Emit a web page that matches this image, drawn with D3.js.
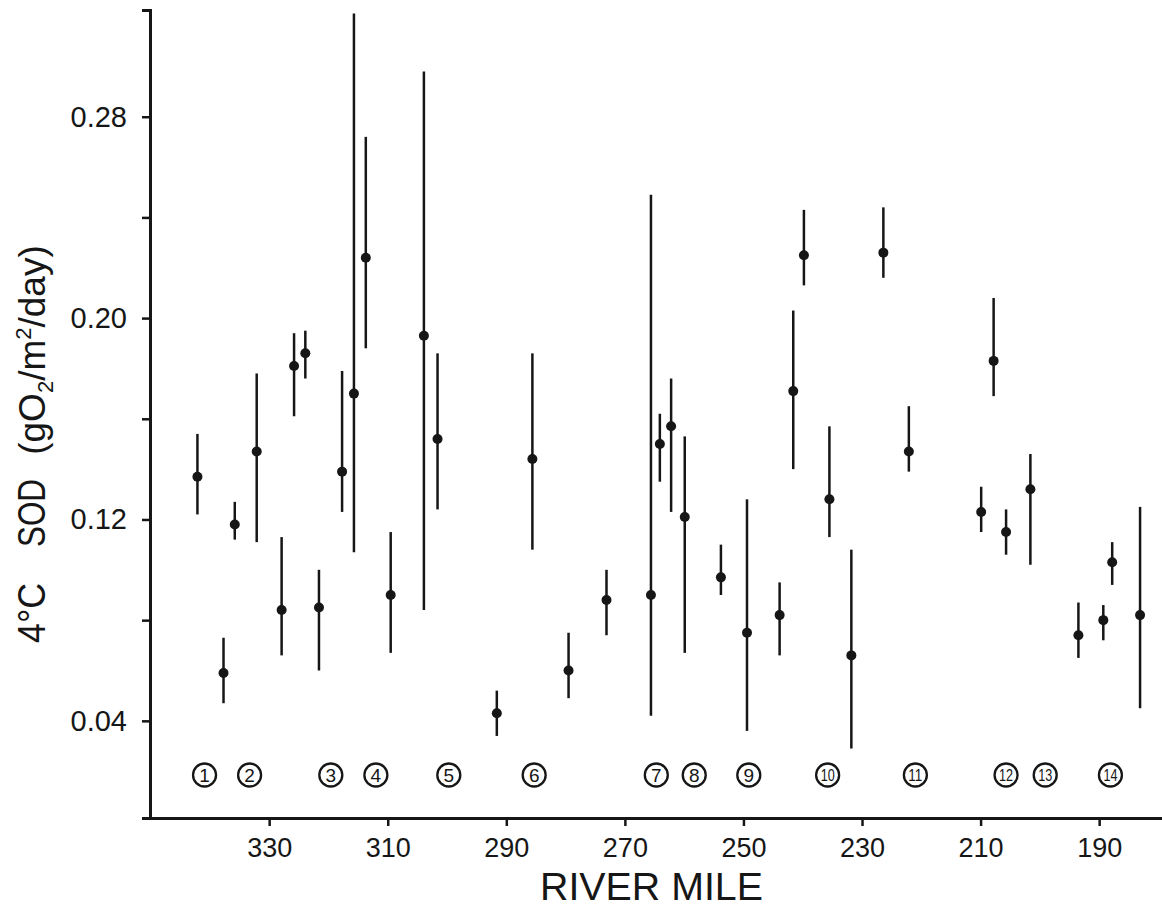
<!DOCTYPE html>
<html>
<head>
<meta charset="utf-8">
<script src="https://cdn.jsdelivr.net/npm/d3@7/dist/d3.min.js"></script>
<style>
    body { margin: 0; background: #fff; }
    svg text { font-family: "Liberation Sans", Arial, sans-serif; fill: #161616; }
</style>
</head>
<body>
<script>
// sampling sites (river mile, SOD and its range)
var riverMile = [342.1, 337.7, 335.8, 332.1, 327.9, 325.8, 323.9, 321.6, 317.7, 315.7,
    313.7, 309.5, 303.9, 301.6, 291.6, 285.6, 279.5, 273.1, 265.6, 264.1,
    262.2, 259.9, 253.8, 249.4, 243.9, 241.6, 239.8, 235.5, 231.8, 226.4,
    222.1, 209.9, 207.8, 205.7, 201.6, 193.5, 189.3, 187.8, 183.1];
var sod = [0.137, 0.059, 0.118, 0.147, 0.084, 0.181, 0.186, 0.085, 0.139, 0.170,
    0.224, 0.090, 0.193, 0.152, 0.043, 0.144, 0.060, 0.088, 0.090, 0.150,
    0.157, 0.121, 0.097, 0.075, 0.082, 0.171, 0.225, 0.128, 0.066, 0.226,
    0.147, 0.123, 0.183, 0.115, 0.132, 0.074, 0.080, 0.103, 0.082];
var sodHigh = [0.154, 0.073, 0.127, 0.178, 0.113, 0.194, 0.195, 0.100, 0.179, 0.321,
    0.272, 0.115, 0.298, 0.186, 0.052, 0.186, 0.075, 0.100, 0.249, 0.162,
    0.176, 0.153, 0.110, 0.128, 0.095, 0.203, 0.243, 0.157, 0.108, 0.244,
    0.165, 0.133, 0.208, 0.124, 0.146, 0.087, 0.086, 0.111, 0.125];
var sodLow = [0.122, 0.047, 0.112, 0.111, 0.066, 0.161, 0.176, 0.060, 0.123, 0.107,
    0.188, 0.067, 0.084, 0.124, 0.034, 0.108, 0.049, 0.074, 0.042, 0.135,
    0.123, 0.067, 0.090, 0.036, 0.066, 0.140, 0.213, 0.113, 0.029, 0.216,
    0.139, 0.115, 0.169, 0.106, 0.102, 0.065, 0.072, 0.094, 0.045];

// circled station numbers along the bottom
var stationNo = [1, 2, 3, 4, 5, 6, 7, 8, 9, 10, 11, 12, 13, 14];
var stationMile = [340.9, 333.3, 319.6, 312.0, 299.7, 285.3, 264.7, 258.3, 249.1,
    235.8, 221.0, 205.7, 199.1, 188.1];

var xTicks = [330, 310, 290, 270, 250, 230, 210, 190];
var yTicks = [0.04, 0.08, 0.12, 0.16, 0.20, 0.24, 0.28];
var yLabelled = [0.04, 0.12, 0.20, 0.28];

var w = 1162, h = 909;
var ink = "#161616";

var svg = d3.select("body").append("svg")
    .attr("width", w)
    .attr("height", h);

var x_scale = d3.scaleLinear().domain([350.1, 179.4]).range([150, 1162]);
var y_scale = d3.scaleLinear().domain([0.0014, 0.3224]).range([818, 10]);

//Axes
var y_axis = d3.axisLeft(y_scale)
    .tickValues(yTicks)
    .tickSize(8)
    .tickPadding(15)
    .tickFormat(function(d) { return yLabelled.indexOf(d) >= 0 ? d3.format(".2f")(d) : ""; });

var x_axis = d3.axisBottom(x_scale)
    .tickValues(xTicks)
    .tickSize(8)
    .tickSizeOuter(0)
    .tickPadding(12);

var y_group = svg.append("g")
    .attr("transform", "translate(150,0)")
    .call(y_axis);

var x_group = svg.append("g")
    .attr("transform", "translate(0,818)")
    .call(x_axis);

[y_group, x_group].forEach(function(g) {
    g.select(".domain").attr("stroke", ink).attr("stroke-width", 3);
    g.selectAll(".tick line").attr("stroke", ink).attr("stroke-width", 2.5);
    g.selectAll(".tick text").attr("fill", ink).style("font-family", "Liberation Sans, Arial, sans-serif");
});
y_group.selectAll(".tick text").style("font-size", "29px");
x_group.selectAll(".tick text").style("font-size", "27px");

//Error bars + points
var sites = riverMile.map(function(m, i) {
    return { mile: m, v: sod[i], hi: sodHigh[i], lo: sodLow[i] };
});

var view = svg.append("g").attr("id", "view");

view.selectAll(".bar")
    .data(sites)
    .enter()
    .append("line")
    .attr("class", "bar")
    .attr("x1", function(d) { return x_scale(d.mile); })
    .attr("x2", function(d) { return x_scale(d.mile); })
    .attr("y1", function(d) { return y_scale(d.hi); })
    .attr("y2", function(d) { return y_scale(d.lo); })
    .attr("stroke", ink)
    .attr("stroke-width", 2.5);

view.selectAll(".dot")
    .data(sites)
    .enter()
    .append("circle")
    .attr("class", "dot")
    .attr("cx", function(d) { return x_scale(d.mile); })
    .attr("cy", function(d) { return y_scale(d.v); })
    .attr("r", 5)
    .attr("fill", ink);

//Station markers
var stations = svg.selectAll(".station")
    .data(stationNo)
    .enter()
    .append("g")
    .attr("class", "station")
    .attr("transform", function(d, i) { return "translate(" + x_scale(stationMile[i]) + ",775)"; });

stations.append("circle")
    .attr("r", 11.5)
    .attr("fill", "none")
    .attr("stroke", ink)
    .attr("stroke-width", 2.3);

stations.append("text")
    .attr("text-anchor", "middle")
    .attr("dy", "0.36em")
    .attr("textLength", function(d) { return d > 9 ? 14 : null; })
    .attr("lengthAdjust", "spacingAndGlyphs")
    .style("font-size", function(d) { return d > 9 ? "17px" : "19px"; })
    .text(function(d) { return d; });

//Axis titles
svg.append("text")
    .attr("x", 651.5)
    .attr("y", 900)
    .attr("text-anchor", "middle")
    .attr("textLength", 223)
    .attr("lengthAdjust", "spacingAndGlyphs")
    .style("font-size", "38px")
    .text("RIVER MILE");

svg.append("text")
    .attr("transform", "translate(45,613) rotate(-90)")
    .attr("text-anchor", "middle")
    .attr("textLength", 60)
    .attr("lengthAdjust", "spacingAndGlyphs")
    .style("font-size", "38px")
    .text("4°C");

svg.append("text")
    .attr("transform", "translate(45,513) rotate(-90)")
    .attr("text-anchor", "middle")
    .attr("textLength", 68)
    .attr("lengthAdjust", "spacingAndGlyphs")
    .style("font-size", "38px")
    .text("SOD");

var unit = svg.append("text")
    .attr("transform", "translate(45,350) rotate(-90)")
    .attr("text-anchor", "middle")
    .style("font-size", "37px");
unit.append("tspan").text("(gO");
unit.append("tspan").attr("dy", 8).style("font-size", "22px").text("2");
unit.append("tspan").attr("dy", -8).text("/m");
unit.append("tspan").attr("dy", -14).style("font-size", "22px").text("2");
unit.append("tspan").attr("dy", 14).text("/day)");
</script>
</body>
</html>
